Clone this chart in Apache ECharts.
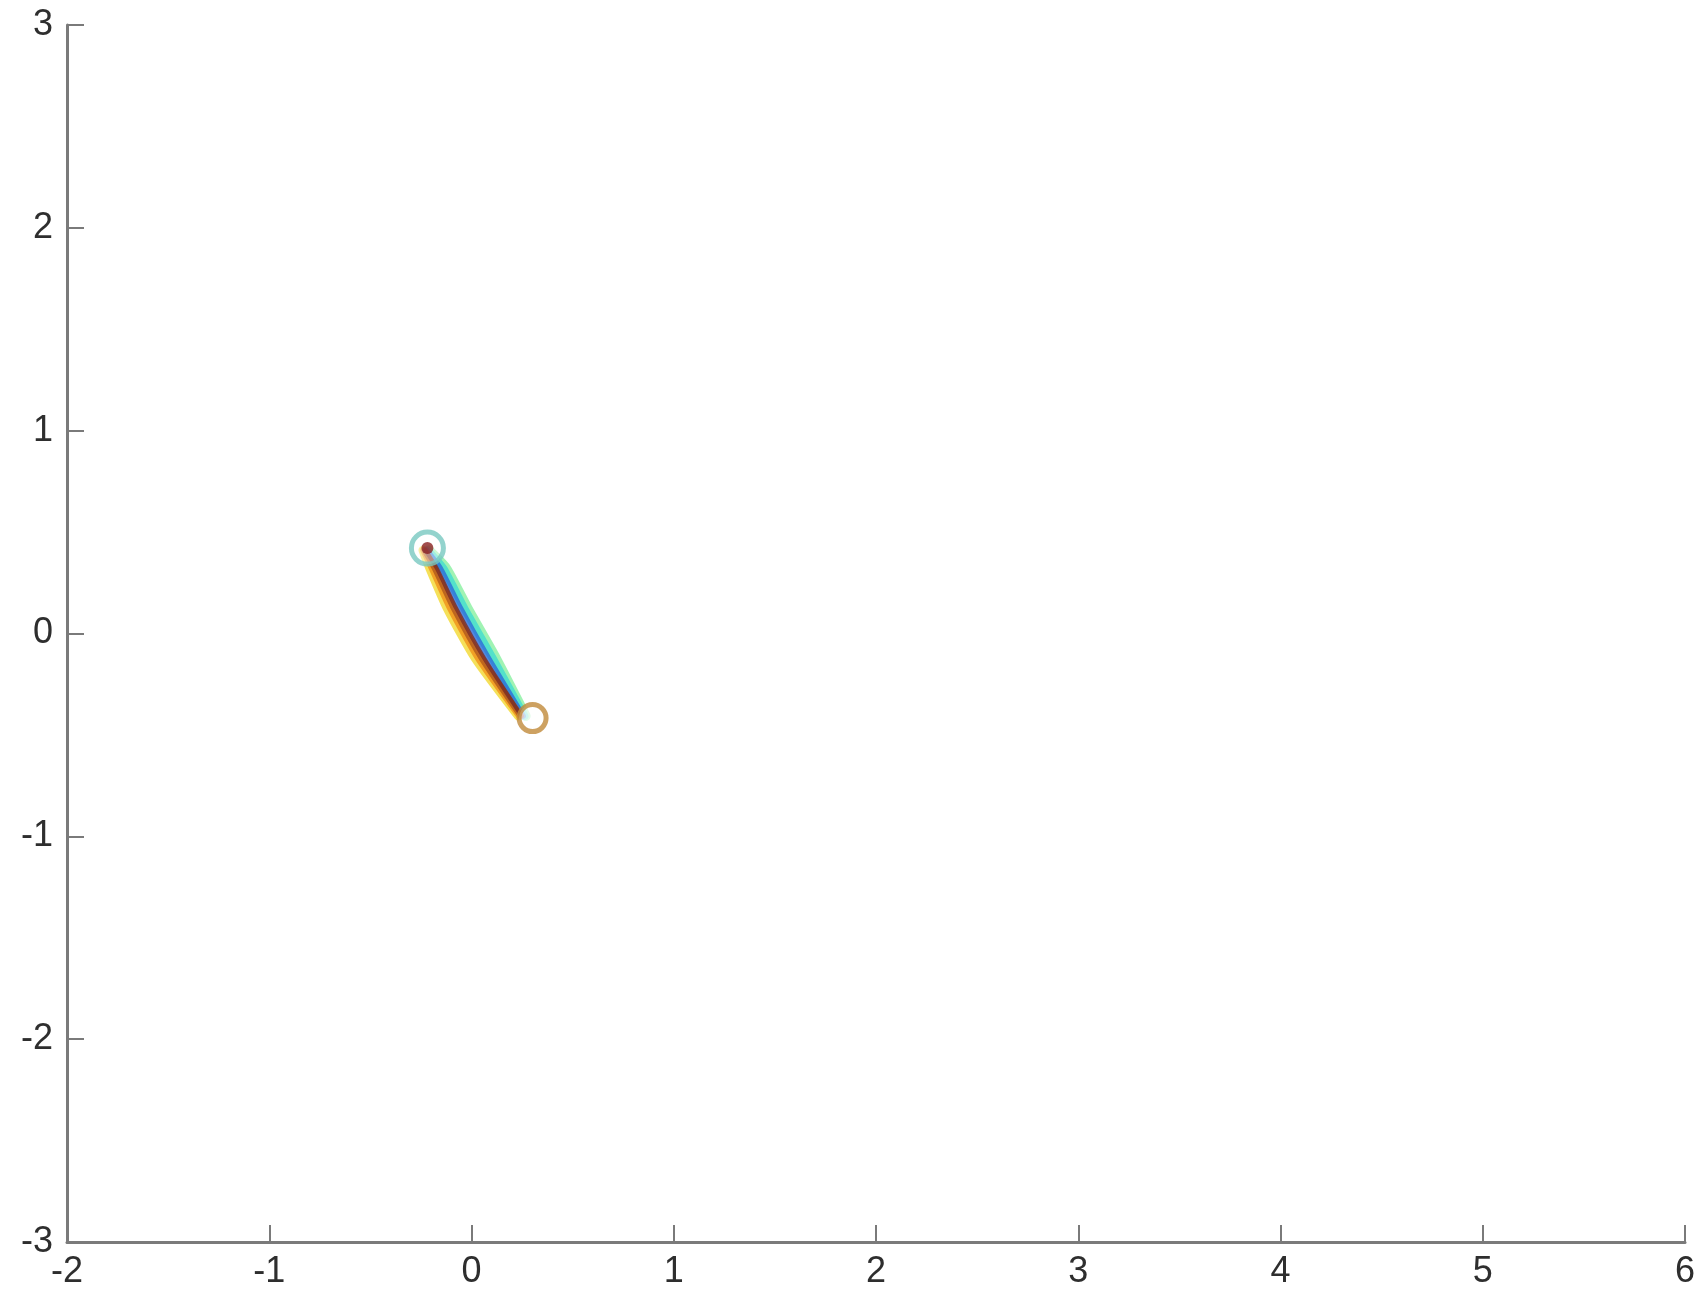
<!DOCTYPE html>
<html>
<head>
<meta charset="utf-8">
<script src="https://cdn.jsdelivr.net/npm/echarts@6/dist/echarts.min.js"></script>
<style>html,body{margin:0;padding:0;background:#fff}#c{width:1701px;height:1296px}</style>
</head>
<body>
<div id="c"></div>
<script>
// Trajectory strands (x, y values)
const yVals = [0.411, 0.322, 0.125, -0.121, -0.407];
const xYellow = [-0.240, -0.206, -0.120, 0.018, 0.232];
const xOrange = [-0.236, -0.194, -0.104, 0.034, 0.238];
const xBrown  = [-0.232, -0.182, -0.088, 0.050, 0.244];
const xDarkRed= [-0.228, -0.172, -0.076, 0.062, 0.248];
const xBlue   = [-0.224, -0.156, -0.056, 0.082, 0.254];
const xCyan   = [-0.218, -0.140, -0.036, 0.104, 0.262];
const xGreen  = [-0.212, -0.126, -0.020, 0.120, 0.268];
const startPoint = [-0.218, 0.421];
const endPoint = [0.302, -0.417];
const xTicks = [-2, -1, 0, 1, 2, 3, 4, 5, 6];
const yTicks = [-3, -2, -1, 0, 1, 2, 3];

function pts(xs) { return xs.map((x, i) => [x, yVals[i]]); }
function strand(name, xs, color, w) {
  return { name, type: 'line', data: pts(xs), showSymbol: false, smooth: 0.2,
    lineStyle: { color, width: w, opacity: 0.8, cap: 'round' }, z: 3 };
}
const chart = echarts.init(document.getElementById('c'));
const axisCommon = {
  axisLine: { show: true, onZero: false, lineStyle: { color: '#7a7a7a', width: 3 } },
  axisTick: { show: true, inside: true, length: 17, lineStyle: { color: '#7a7a7a', width: 2 } },
  splitLine: { show: false },
  axisLabel: { color: '#2e2e2e', fontSize: 36, fontFamily: 'Liberation Sans, Arial, sans-serif' }
};
chart.setOption({
  animation: false,
  backgroundColor: '#fff',
  grid: { left: 67, right: 16, top: 25, bottom: 54, containLabel: false },
  xAxis: Object.assign({ type: 'value', min: -2, max: 6, interval: 1 }, axisCommon,
    { axisLabel: Object.assign({}, axisCommon.axisLabel, { margin: 12 }) }),
  yAxis: Object.assign({ type: 'value', min: -3, max: 3, interval: 1 }, axisCommon,
    { axisLabel: Object.assign({}, axisCommon.axisLabel, { margin: 14 }) }),
  series: [
    strand('yellow', xYellow, '#f2d830', 9),
    strand('orange', xOrange, '#f09018', 7),
    strand('green', xGreen, '#88f0a0', 10),
    strand('cyan', xCyan, '#40dcd0', 8),
    strand('blue', xBlue, '#2a6ad8', 6),
    strand('brown', xBrown, '#b0581c', 6),
    strand('darkred', xDarkRed, '#7a2a20', 4),
    { type: 'scatter', data: [startPoint], symbol: 'circle', symbolSize: 32, z: 4,
      itemStyle: { color: 'rgba(255,255,255,0.55)', borderColor: '#78c8c0', borderWidth: 5 } },
    { type: 'scatter', data: [startPoint], symbol: 'circle', symbolSize: 12, z: 5,
      itemStyle: { color: '#8a2020' } },
    { type: 'scatter', data: [endPoint], symbol: 'circle', symbolSize: 27, z: 4,
      itemStyle: { color: 'rgba(255,255,255,0.9)', borderColor: '#c08a3a', borderWidth: 5 } }
  ]
});
</script>
</body>
</html>
